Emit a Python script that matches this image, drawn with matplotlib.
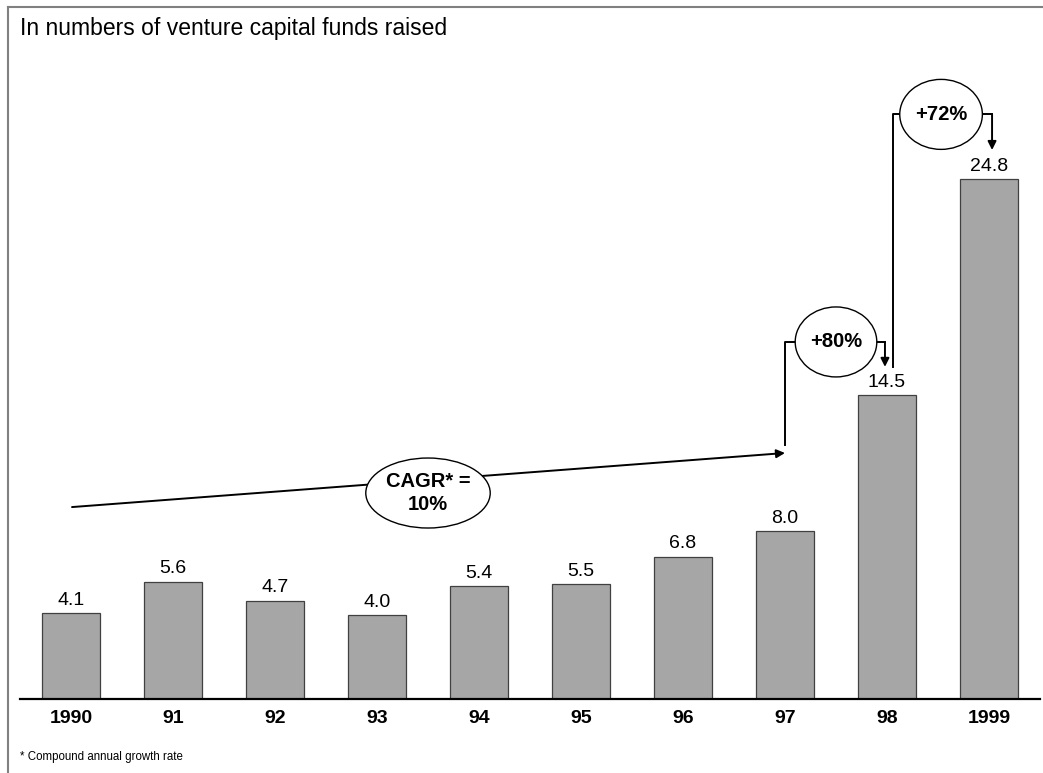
import matplotlib.pyplot as plt
from matplotlib.patches import Ellipse
from matplotlib.lines import Line2D

plt.rcParams['font.family'] = ['Liberation Sans', 'DejaVu Sans']

years = ['1990', '91', '92', '93', '94', '95', '96', '97', '98', '1999']
funds = [4.1, 5.6, 4.7, 4.0, 5.4, 5.5, 6.8, 8.0, 14.5, 24.8]
cagrText = 'CAGR* =\n10%'
growth98 = '+80%'
growth99 = '+72%'

W, H = 1043, 773
fig = plt.figure(figsize=(W / 100, H / 100), dpi=100)
ax = fig.add_axes([20 / W, 74 / H, 1020 / W, 659 / H])

x = list(range(len(years)))
ax.bar(x, funds, width=0.56, color='#a6a6a6', edgecolor='#404040', linewidth=0.9, zorder=2)
for xi, v in zip(x, funds):
	ax.annotate('%.1f' % v, (xi, v), xytext=(0, 3), textcoords='offset points',
		ha='center', va='bottom', fontsize=14)

ax.set_xlim(-0.5, 9.5)
ax.set_ylim(0, 31.45)
ax.set_xticks(x)
ax.set_xticklabels(years, fontsize=14, fontweight='bold')
ax.tick_params(axis='x', length=0, pad=8)
ax.set_yticks([])
for s in ['left', 'right', 'top']:
	ax.spines[s].set_visible(False)
ax.spines['bottom'].set_linewidth(1.6)
ax.spines['bottom'].set_zorder(3)

arrow = dict(arrowstyle='-|>,head_length=0.5,head_width=0.25', color='black', lw=1.4, shrinkA=0, shrinkB=0)

def bubble(cx, cy, w, text):
	ax.add_patch(Ellipse((cx, cy), w, 3.34, facecolor='white', edgecolor='black', lw=1.0, zorder=5))
	ax.text(cx, cy, text, ha='center', va='center', fontsize=14.5, fontweight='bold',
		linespacing=1.25, zorder=6)

# CAGR trend arrow across the decade
ax.annotate('', xy=(7.0, 11.74), xytext=(0.01, 9.16), arrowprops=arrow, zorder=4)
bubble(3.5, 9.83, 1.22, cagrText)

# 97 -> 98 jump
ax.plot([7.0, 7.0, 7.98], [12.1, 17.04, 17.04], color='black', lw=1.4, zorder=4)
ax.annotate('', xy=(7.98, 15.85), xytext=(7.98, 17.04), arrowprops=arrow, zorder=4)
bubble(7.5, 17.04, 0.8, growth98)

# 98 -> 1999 jump
ax.plot([8.06, 8.06, 9.03], [15.85, 27.9, 27.9], color='black', lw=1.4, zorder=4)
ax.annotate('', xy=(9.03, 26.2), xytext=(9.03, 27.9), arrowprops=arrow, zorder=4)
bubble(8.53, 27.9, 0.81, growth99)

fig.text(20 / W, 1 - 28 / H, 'In numbers of venture capital funds raised', fontsize=16.5, va='center')
fig.text(20 / W, 1 - 757 / H, '* Compound annual growth rate', fontsize=8.3, va='center')

# outer frame
fig.add_artist(Line2D([8 / W, 8 / W], [0, 1 - 7 / H], color='#808080', lw=1.5))
fig.add_artist(Line2D([8 / W, 1], [1 - 7 / H, 1 - 7 / H], color='#808080', lw=1.5))

fig.savefig('out.png', dpi=100)
